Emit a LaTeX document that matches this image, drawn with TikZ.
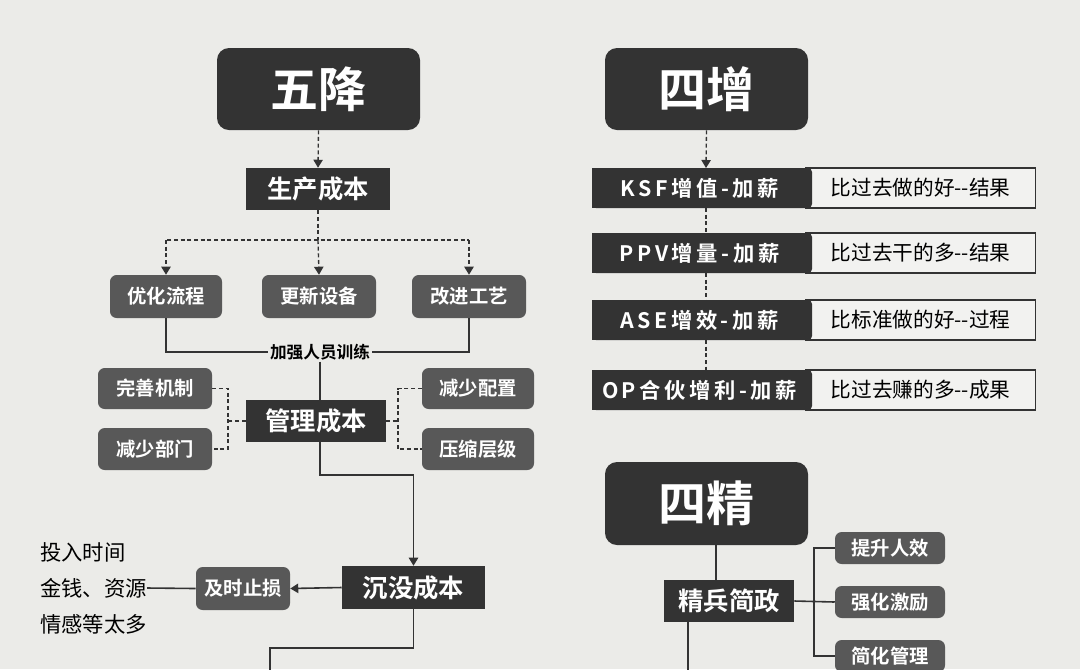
\documentclass[tikz,border=0pt]{standalone}
\usepackage{fontspec}
\setmainfont{Noto Sans CJK SC}
\newfontfamily\cjkb{Noto Sans CJK SC Bold}
\newfontfamily\cjkr{Noto Sans CJK SC}
\usetikzlibrary{arrows.meta}
\definecolor{bg}{HTML}{EBEBE8}
\definecolor{dk}{HTML}{333333}
\definecolor{gr}{HTML}{585858}
\definecolor{lt}{HTML}{F2F2F0}
\tikzset{
 big/.style={fill=dk,rounded corners=9pt,text=white,font=\cjkb\fontsize{36}{36}\selectfont,inner sep=0},
 mid/.style={fill=dk,text=white,font=\cjkb\fontsize{19}{19}\selectfont,inner sep=0},
 sm/.style={fill=gr,rounded corners=5pt,text=white,font=\cjkb\fontsize{14.5}{15}\selectfont,inner sep=0},
 rowd/.style={fill=dk,text=white,font=\cjkb\fontsize{16}{16}\selectfont,inner sep=0},
 rowl/.style={fill=lt,draw=dk,line width=1pt,text=black,font=\cjkr\fontsize{15.5}{16}\selectfont,inner sep=0},
 dsh/.style={draw=dk,line width=1pt,dash pattern=on 3pt off 2pt},
 sol/.style={draw=dk,line width=1.2pt},
 arr/.style={-{Triangle[length=6pt,width=7pt]}},
}
\begin{document}
\begin{tikzpicture}[x=0.75pt,y=-0.75pt]
\fill[bg] (0,0) rectangle (1080,669);
\clip (0,0) rectangle (1080,669);
\useasboundingbox (0,0) rectangle (1080,669);
% left column
\node[big,minimum width=203*0.75pt,minimum height=82*0.75pt] (wj) at (318.5,89) {五降};
\node[mid,minimum width=144*0.75pt,minimum height=42*0.75pt] (sc) at (318,189) {生产成本};
\draw[dsh,arr] (wj.south) -- (sc.north);
\node[sm,minimum width=112*0.75pt,minimum height=43*0.75pt] (y1) at (166,296.5) {优化流程};
\node[sm,minimum width=114*0.75pt,minimum height=43*0.75pt] (y2) at (319,296.5) {更新设备};
\node[sm,minimum width=114*0.75pt,minimum height=43*0.75pt] (y3) at (469,296.5) {改进工艺};
\coordinate (sj) at (318,240);
\draw[dsh] (sc.south) -- (sj);
\draw[dsh] (sj) -- (y1.north|-sj) -- (y3.north|-sj);
\draw[dsh,arr] (y1.north|-sj) -- (y1.north);
\draw[dsh,arr] (sj) -- (y2.north);
\draw[dsh,arr] (y3.north|-sj) -- (y3.north);
\node[font=\cjkb\fontsize{12.5}{13}\selectfont,text=black,inner sep=1pt] (jq) at (320,352) {加强人员训练};
\draw[sol] (y1.south) -- (y1.south|-jq) -- (jq.west);
\draw[sol] (y3.south) -- (y3.south|-jq) -- (jq.east);
\node[mid,minimum width=140*0.75pt,minimum height=42*0.75pt] (gl) at (316,421) {管理成本};
\draw[sol] (jq.south) -- (jq.south|-gl.north);
\node[sm,minimum width=114*0.75pt,minimum height=41*0.75pt] (a1) at (155,388.5) {完善机制};
\node[sm,minimum width=114*0.75pt,minimum height=42*0.75pt] (a2) at (155,449) {减少部门};
\node[sm,minimum width=112*0.75pt,minimum height=41*0.75pt] (b1) at (478,388.5) {减少配置};
\node[sm,minimum width=112*0.75pt,minimum height=42*0.75pt] (b2) at (478,449) {压缩层级};
\draw[dsh] (gl.west) -- (228,421);
\draw[dsh] (a1.east) -- (228,388.5) -- (228,449) -- (a2.east);
\draw[dsh] (gl.east) -- (398,421);
\draw[dsh] (b1.west) -- (398,388.5) -- (398,449) -- (b2.west);
\node[mid,minimum width=143*0.75pt,minimum height=43*0.75pt] (cm) at (413.5,587.5) {沉没成本};
\draw[sol,arr] (320,442) -- (320,475) -- (cm.north|-0,475) -- (cm.north);
\node[sm,minimum width=94*0.75pt,minimum height=43*0.75pt] (js) at (243,588.5) {及时止损};
\draw[sol,arr] (cm.west) -- (js.east);
\node[font=\cjkr\fontsize{16}{16}\selectfont,anchor=west,inner sep=0] (t1) at (40,552) {投入时间};
\node[font=\cjkr\fontsize{16}{16}\selectfont,anchor=west,inner sep=0] (t2) at (40,588) {金钱、资源};
\node[font=\cjkr\fontsize{16}{16}\selectfont,anchor=west,inner sep=0] (t3) at (40,624) {情感等太多};
\draw[sol] (js.west) -- (t2.east);
\draw[sol] (cm.south) -- (413.5,648) -- (270,648) -- (270,680);
% right column
\node[big,minimum width=203*0.75pt,minimum height=82*0.75pt] (sz) at (706.5,89) {四增};
\foreach \i/\y/\l/\r in {1/188/{K\,S\,F\,增\,值\,-\,加\,薪}/{比过去做的好--结果},
 2/253/{P\,P\,V\,增\,量\,-\,加\,薪}/{比过去干的多--结果},
 3/320/{A\,S\,E\,增\,效\,-\,加\,薪}/{比标准做的好--过程},
 4/390/{O\,P\,合\,伙\,增\,利\,-\,加\,薪}/{比过去赚的多--成果}}{
 \node[rowl,minimum width=230*0.75pt,minimum height=40*0.75pt] (r\i) at (920.5,\y) {\r};
 \fill[dk,rounded corners=3pt] (592,\y-20) rectangle (812,\y+20);
 \node[rowd,minimum width=215*0.75pt,minimum height=40*0.75pt] (l\i) at (699.5,\y) {\l};
}
\draw[dsh,arr] (sz.south) -- (706,168);
\draw[dsh] (706,208) -- (706,233);
\draw[dsh] (706,273) -- (706,300);
\draw[dsh] (706,340) -- (706,370);
\node[big,minimum width=203*0.75pt,minimum height=83*0.75pt] (sj2) at (706.5,503.5) {四精};
\node[mid,minimum width=130*0.75pt,minimum height=42*0.75pt] (jb) at (729,601) {精兵简政};
\draw[sol] (716,545) -- (716,580);
\node[sm,minimum width=110*0.75pt,minimum height=32*0.75pt] (c1) at (890,548) {提升人效};
\node[sm,minimum width=110*0.75pt,minimum height=32*0.75pt] (c2) at (890,602) {强化激励};
\node[sm,minimum width=110*0.75pt,minimum height=32*0.75pt] (c3) at (890,656) {简化管理};
\draw[sol] (jb.east) -- (c2.west);
\draw[sol] (c1.west) -- (814,548) -- (814,656) -- (c3.west);
\draw[sol] (688,622) -- (688,680);
\end{tikzpicture}
\end{document}
